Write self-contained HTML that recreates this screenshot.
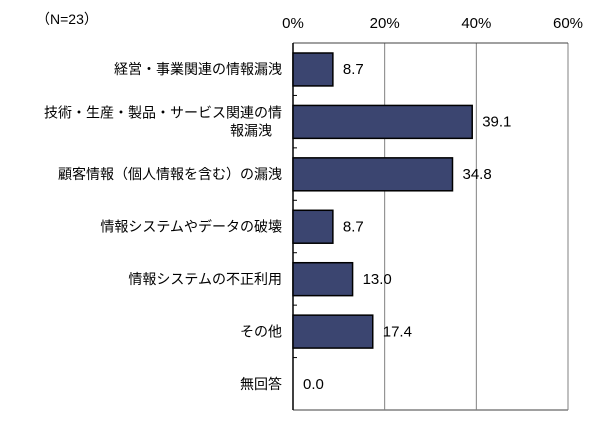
<!DOCTYPE html>
<html><head><meta charset="utf-8"><style>
body{margin:0;background:#fff;}
svg{display:block;font-family:"Liberation Sans","Noto Sans CJK JP",sans-serif;}
</style></head><body>
<svg id="c" width="602" height="433"></svg>
<script>
const categories=["経営・事業関連の情報漏洩","技術・生産・製品・サービス関連の情\n報漏洩","顧客情報（個人情報を含む）の漏洩","情報システムやデータの破壊","情報システムの不正利用","その他","無回答"];
const values=[8.7,39.1,34.8,8.7,13.0,17.4,0.0];
const valueLabels=["8.7","39.1","34.8","8.7","13.0","17.4","0.0"];
const ticks=[0,20,40,60];
const tickLabels=["0%","20%","40%","60%"];
const NS="http://www.w3.org/2000/svg";
const svg=document.getElementById('c');
const X0=293,X1=568,Y0=43,Y1=410,MAX=60;
const x=v=>X0+(X1-X0)*v/MAX;
const rowH=(Y1-Y0)/categories.length;
const y=i=>Y0+rowH*i;
function mk(t,a){const e=document.createElementNS(NS,t);for(const k in a)e.setAttribute(k,a[k]);svg.appendChild(e);return e;}
let n=mk('text',{x:36,y:24,'font-size':14,fill:'#000'});n.textContent='（N=23）';


ticks.forEach((t,i)=>{
 if(t>0){const g=mk('line',{x1:x(t),x2:x(t),y1:Y0,y2:Y1,stroke:'#808080','stroke-width':1});
 
 }
 const l=mk('text',{x:x(t),y:28,'font-size':15,'text-anchor':'middle',fill:'#000'});l.textContent=tickLabels[i];
 
 
});
let f=mk('line',{x1:X0,x2:X1,y1:Y0,y2:Y0,stroke:'#404040','stroke-width':1});


f=mk('line',{x1:X0,x2:X1,y1:Y1,y2:Y1,stroke:'#808080','stroke-width':1.5});


f=mk('line',{x1:X0,x2:X0,y1:Y0,y2:Y1,stroke:'#000','stroke-width':1.5});


for(let i=1;i<categories.length;i++){const t=mk('line',{x1:X0,x2:X0+4,y1:y(i),y2:y(i),stroke:'#000','stroke-width':1});
 
 }
categories.forEach((c,i)=>{
 const top=y(i)+10,h=rowH-19.5,cy=y(i)+rowH/2;
 if(values[i]>0){const b=mk('rect',{x:X0,y:top,width:x(values[i])-X0,height:h,fill:'#3b4570',stroke:'#000','stroke-width':1.5});
 
 }
 const v=mk('text',{x:x(values[i])+10,y:cy+5,'font-size':15,fill:'#000'});v.textContent=valueLabels[i];
 
 
 const lines=c.split('\n');
 const lab=mk('text',{'font-size':14,'text-anchor':'end',fill:'#000'});
 
 
 lines.forEach((s,k)=>{const ts=document.createElementNS(NS,'tspan');
  ts.setAttribute('x',lines.length>1&&k==1?251:282);
  ts.setAttribute('y',cy+5+(k-(lines.length-1)/2)*18);
  if(lines.length>1&&k==1)ts.setAttribute('text-anchor','middle');
  ts.textContent=s;lab.appendChild(ts);});
});
</script>
</body></html>
